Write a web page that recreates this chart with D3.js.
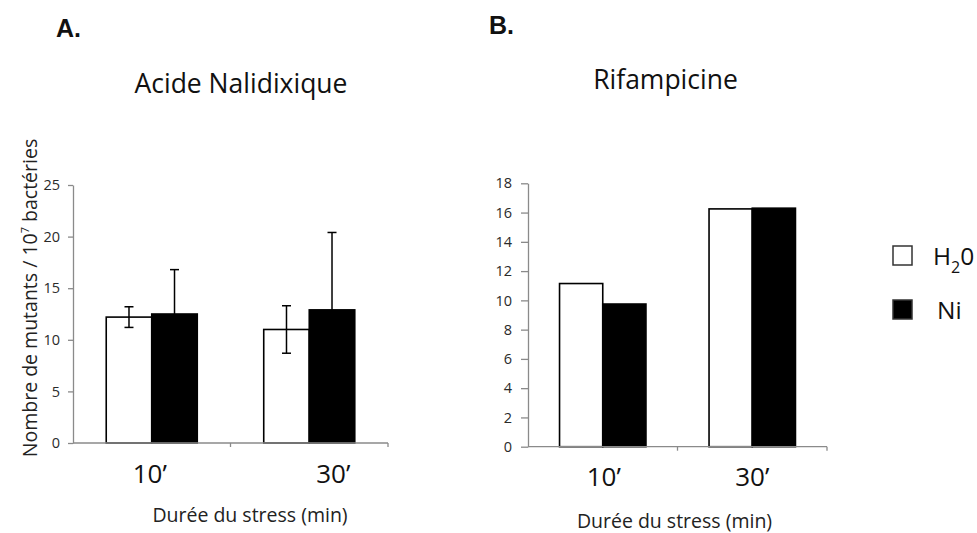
<!DOCTYPE html>
<html>
<head>
<meta charset="utf-8">
<script src="https://cdn.jsdelivr.net/npm/d3@7"></script>
<style>
  html, body { margin: 0; padding: 0; background: #fff; }
  svg { display: block; font-family: "Open Sans", sans-serif; }
</style>
</head>
<body>
<svg id="chart" width="977" height="533"></svg>
<script>
// Stress duration groups and the two treatments
const categories = ["10’", "30’"];
const series = ["H2O", "Ni"];

// Panel A: nalidixic acid resistant mutants (mean and error)
const nalH2O = [12.2, 11.0];
const nalNi = [12.5, 12.9];
const nalH2OErr = [1.0, 2.3];
const nalNiErr = [4.3, 7.5];
const nalTicks = [0, 5, 10, 15, 20, 25];

// Panel B: rifampicin resistant mutants
const rifH2O = [11.15, 16.25];
const rifNi = [9.75, 16.3];
const rifTicks = [0, 2, 4, 6, 8, 10, 12, 14, 16, 18];

const fills = { "H2O": "#ffffff", "Ni": "#000000" };
const axisColor = "#8a8a8a";

const svg = d3.select("#chart");

function panel(opts) {
  const g = svg.append("g");
  const x = d3.scaleBand().domain(categories).range([opts.x0, opts.x1]);
  const xs = d3.scaleBand().domain(series).range([0, x.bandwidth()]).paddingOuter(0.73);
  const y = d3.scaleLinear().domain([0, opts.max]).range([opts.y0, opts.y1]);

  // y axis
  const ya = g.append("g")
    .attr("transform", `translate(${opts.x0},0)`)
    .call(d3.axisLeft(y).tickValues(opts.ticks).tickSize(opts.tickSize).tickSizeOuter(0).tickPadding(opts.tickPad));
  ya.select(".domain").attr("stroke", axisColor).attr("stroke-width", 1.3);
  ya.selectAll(".tick line").attr("stroke", axisColor).attr("stroke-width", 1.3);
  ya.selectAll(".tick text").attr("fill", "#2a2a2a").style("font-size", "14.5px")
    .style("font-family", "'Open Sans', sans-serif");

  // bars
  const rows = categories.map((c, i) => ({
    cat: c,
    vals: [
      { s: "H2O", v: opts.h2o[i], e: opts.h2oErr ? opts.h2oErr[i] : null },
      { s: "Ni", v: opts.ni[i], e: opts.niErr ? opts.niErr[i] : null }
    ]
  }));
  const grp = g.selectAll("g.grp").data(rows).join("g")
    .attr("class", "grp")
    .attr("transform", d => `translate(${x(d.cat)},0)`);
  grp.selectAll("rect").data(d => d.vals).join("rect")
    .attr("x", d => xs(d.s))
    .attr("width", xs.bandwidth())
    .attr("y", d => y(d.v))
    .attr("height", d => y(0) - y(d.v))
    .attr("fill", d => fills[d.s])
    .attr("stroke", "#000")
    .attr("stroke-width", 1.6);

  // error bars (the part inside a black bar blends into its fill)
  const eb = grp.selectAll("g.err").data(d => d.vals.filter(v => v.e != null)).join("g")
    .attr("class", "err")
    .attr("stroke", "#000").attr("stroke-width", 1.5);
  eb.append("line")
    .attr("x1", d => xs(d.s) + xs.bandwidth() / 2)
    .attr("x2", d => xs(d.s) + xs.bandwidth() / 2)
    .attr("y1", d => y(d.v - d.e))
    .attr("y2", d => y(d.v + d.e));
  [1, -1].forEach(sign => {
    eb.append("line")
      .attr("x1", d => xs(d.s) + xs.bandwidth() / 2 - 4.5)
      .attr("x2", d => xs(d.s) + xs.bandwidth() / 2 + 4.5)
      .attr("y1", d => y(d.v + sign * d.e))
      .attr("y2", d => y(d.v + sign * d.e));
  });

  // x axis baseline with boundary ticks
  g.append("line")
    .attr("x1", opts.x0).attr("x2", opts.x1)
    .attr("y1", y(0)).attr("y2", y(0))
    .attr("stroke", axisColor).attr("stroke-width", 1.3);
  g.selectAll("line.bt").data(categories).join("line")
    .attr("class", "bt")
    .attr("x1", d => x(d) + x.bandwidth()).attr("x2", d => x(d) + x.bandwidth())
    .attr("y1", y(0)).attr("y2", y(0) + 4)
    .attr("stroke", axisColor).attr("stroke-width", 1.3);

  // category labels
  g.selectAll("text.cat").data(categories).join("text")
    .attr("class", "cat")
    .attr("x", (d, i) => x(d) + x.bandwidth() / 2 + opts.catOff[i])
    .attr("y", opts.catY)
    .attr("text-anchor", "middle")
    .style("font-size", "26px")
    .attr("fill", "#111")
    .text(d => d);

  // x title
  g.append("text")
    .attr("x", (opts.x0 + opts.x1) / 2 + opts.xtOff)
    .attr("y", opts.xtY)
    .attr("text-anchor", "middle")
    .style("font-size", "19.5px")
    .attr("fill", "#222")
    .text("Durée du stress (min)");

  // panel title
  g.append("text")
    .attr("x", opts.titleX)
    .attr("y", opts.titleY)
    .attr("text-anchor", "middle")
    .style("font-size", "26.5px")
    .attr("fill", "#111")
    .text(opts.title);

  // panel letter
  g.append("text")
    .attr("x", opts.letterX)
    .attr("y", opts.letterY)
    .style("font-family", "'Liberation Sans Narrow', 'Liberation Sans', sans-serif")
    .style("font-weight", "bold")
    .style("font-size", "25px")
    .attr("fill", "#111")
    .text(opts.letter);
}

panel({
  x0: 73, x1: 388, y0: 443, y1: 185, max: 25, ticks: nalTicks,
  tickSize: 5, tickPad: 8,
  h2o: nalH2O, ni: nalNi, h2oErr: nalH2OErr, niErr: nalNiErr,
  catY: 483, catOff: [-2, 24], xtY: 522, xtOff: 19.5,
  title: "Acide Nalidixique", titleX: 241, titleY: 93,
  letter: "A.", letterX: 56, letterY: 37
});

panel({
  x0: 528, x1: 827, y0: 446.7, y1: 183.3, max: 18, ticks: rifTicks,
  tickSize: 7, tickPad: 9,
  h2o: rifH2O, ni: rifNi,
  catY: 486, catOff: [1, 0], xtY: 528, xtOff: -3,
  title: "Rifampicine", titleX: 665.5, titleY: 89,
  letter: "B.", letterX: 489, letterY: 34
});

// y axis title for panel A
const yt = svg.append("text")
  .attr("transform", "translate(37,298) rotate(-90)")
  .attr("text-anchor", "middle")
  .style("font-size", "19.5px")
  .attr("fill", "#222");
yt.append("tspan").text("Nombre de mutants / 10");
yt.append("tspan").attr("dy", -8).style("font-size", "11px").text("7");
yt.append("tspan").attr("dy", 8).text(" bactéries");

// legend
const legend = svg.append("g");
const legY = [246, 300];
legend.selectAll("rect").data(series).join("rect")
  .attr("x", 893)
  .attr("y", (d, i) => legY[i])
  .attr("width", 19).attr("height", 19)
  .attr("fill", d => fills[d])
  .attr("stroke", "#333").attr("stroke-width", 1.5);
const h2oText = legend.append("text")
  .attr("x", 933).attr("y", legY[0] + 19)
  .style("font-size", "24.5px").attr("fill", "#111");
h2oText.append("tspan").text("H");
h2oText.append("tspan").attr("dy", 8).style("font-size", "16px").text("2");
h2oText.append("tspan").attr("dy", -8).text("0");
legend.append("text")
  .attr("x", 937).attr("y", legY[1] + 19)
  .style("font-size", "24.5px").attr("fill", "#111")
  .text("Ni");
</script>
</body>
</html>
